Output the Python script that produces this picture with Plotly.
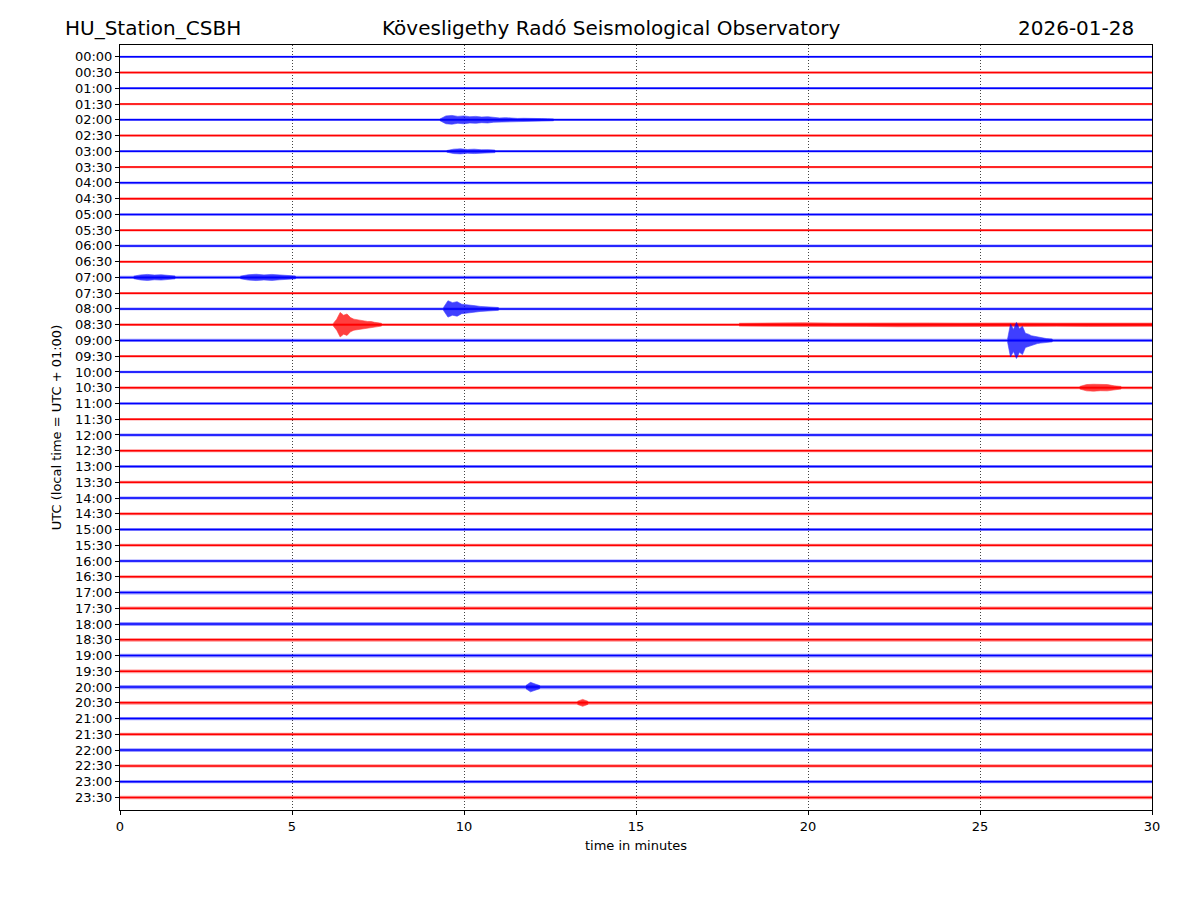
import plotly.graph_objects as go

# helicorder rows, 30 minutes each
row_labels = ["%02d:%02d" % (h, m) for h in range(24) for m in (0, 30)]

# background noise half-width of each trace (in row units)
noise_amp = [0.07, 0.07, 0.08, 0.07, 0.08, 0.07, 0.08, 0.07, 0.08, 0.08,
             0.08, 0.08, 0.09, 0.08, 0.10, 0.08, 0.09, 0.09, 0.10, 0.08,
             0.08, 0.09, 0.08, 0.08, 0.09, 0.09, 0.10, 0.09, 0.10, 0.09,
             0.10, 0.10, 0.10, 0.10, 0.12, 0.11, 0.13, 0.12, 0.12, 0.12,
             0.13, 0.12, 0.11, 0.11, 0.12, 0.11, 0.11, 0.11]

# events: row, start minute, end minute, envelope half-widths (row units)
events = [
    (4, 9.3, 12.6, [0.05, 0.25, 0.28, 0.22, 0.25, 0.2, 0.22, 0.18, 0.2, 0.15,
                    0.12, 0.14, 0.1, 0.09, 0.1, 0.08, 0.08, 0.08, 0.07, 0.06]),
    (6, 9.5, 10.9, [0.05, 0.14, 0.16, 0.12, 0.14, 0.1, 0.11, 0.08]),
    (14, 0.4, 1.6, [0.08, 0.16, 0.19, 0.15, 0.17, 0.12, 0.09]),
    (14, 3.5, 5.1, [0.08, 0.17, 0.2, 0.16, 0.19, 0.15, 0.14, 0.09]),
    (16, 9.4, 11.0, [0.08, 0.52, 0.4, 0.46, 0.3, 0.28, 0.22, 0.2, 0.16, 0.14,
                     0.12, 0.1, 0.09]),
    (17, 6.2, 7.6, [0.08, 0.35, 0.78, 0.6, 0.68, 0.45, 0.35, 0.3, 0.25, 0.24,
                    0.2, 0.2, 0.15, 0.12, 0.09]),
    (17, 18.0, 30.0, [0.09, 0.11, 0.12, 0.1, 0.11, 0.13, 0.11, 0.1, 0.12, 0.11,
                      0.1, 0.11, 0.12, 0.1]),
    (18, 25.8, 27.1, [0.08, 1.05, 0.7, 1.15, 0.75, 0.9, 0.45, 0.4, 0.3, 0.26,
                      0.2, 0.17, 0.14, 0.12, 0.1, 0.09]),
    (21, 27.9, 29.1, [0.08, 0.2, 0.22, 0.19, 0.2, 0.12, 0.08]),
    (40, 11.8, 12.2, [0.1, 0.3, 0.2, 0.1]),
    (41, 13.3, 13.6, [0.1, 0.22, 0.1]),
]

colors = ["#0000ff", "#ff0000"]

fig = go.Figure()

for i, lab in enumerate(row_labels):
    c = colors[i % 2]
    n = noise_amp[i]
    # noise band
    fig.add_trace(go.Scatter(x=[0, 30, 30, 0, 0], y=[i - n, i - n, i + n, i + n, i - n],
                             mode="lines", fill="toself", fillcolor=c, opacity=0.4,
                             line=dict(width=0, color=c), hoverinfo="skip", showlegend=False))
    # trace centre line
    fig.add_trace(go.Scatter(x=[0, 30], y=[i, i], mode="lines",
                             line=dict(color=c, width=1.5),
                             hoverinfo="skip", showlegend=False))

for row, t0, t1, env in events:
    c = colors[row % 2]
    step = (t1 - t0) / (len(env) - 1)
    xs = [t0 + k * step for k in range(len(env))]
    up = [row - a for a in env]
    lo = [row + a for a in env]
    fig.add_trace(go.Scatter(x=xs + xs[::-1], y=up + lo[::-1], mode="lines",
                             fill="toself", fillcolor=c, line=dict(color=c, width=0.6),
                             opacity=0.75, hoverinfo="skip", showlegend=False))

font = "DejaVu Sans, sans-serif"

fig.update_layout(
    width=1200, height=900,
    margin=dict(l=112, r=56, t=37, b=98),
    paper_bgcolor="white", plot_bgcolor="white",
    font=dict(family=font, size=13, color="black"),
)
fig.add_annotation(text="HU_Station_CSBH", xref="paper", yref="paper",
                   x=-0.0555, y=1.0, xanchor="left", yanchor="bottom", yshift=3,
                   showarrow=False, font=dict(size=20, family=font))
fig.add_annotation(text="Kövesligethy Radó Seismological Observatory", xref="paper", yref="paper",
                   x=0.4758, y=1.0, xanchor="center", yanchor="bottom", yshift=3,
                   showarrow=False, font=dict(size=20, family=font))
fig.add_annotation(text="2026-01-28", xref="paper", yref="paper",
                   x=0.9845, y=1.0, xanchor="right", yanchor="bottom", yshift=3,
                   showarrow=False, font=dict(size=20, family=font))

fig.update_xaxes(range=[0, 30], tickvals=[0, 5, 10, 15, 20, 25, 30],
                 showgrid=True, gridcolor="#444", griddash="1px,2px", gridwidth=0.8,
                 showline=True, linecolor="black", linewidth=1, mirror=True,
                 ticks="outside", ticklen=4, tickcolor="black", zeroline=False,
                 title=dict(text="time in minutes", font=dict(size=13), standoff=8))
fig.update_yaxes(range=[47.8, -0.75], tickvals=list(range(48)), ticktext=row_labels,
                 showgrid=False, showline=True, linecolor="black", linewidth=1, mirror=True,
                 ticks="outside", ticklen=4, tickcolor="black", zeroline=False,
                 title=dict(text="UTC (local time = UTC + 01:00)", font=dict(size=13), standoff=10))

fig.write_html("out.html")
